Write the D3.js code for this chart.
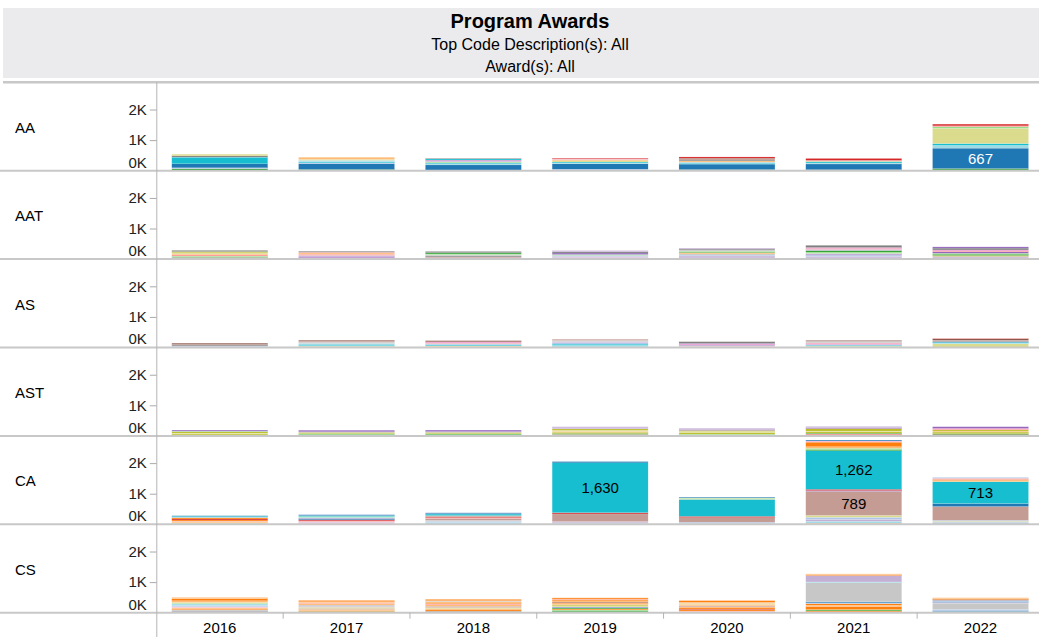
<!DOCTYPE html>
<html>
<head>
<meta charset="utf-8">
<script src="https://cdn.jsdelivr.net/npm/d3@7"></script>
<style>
  body { margin: 0; background: #fff; }
  svg { display: block; font-family: 'Liberation Sans', Arial, Helvetica, sans-serif; }
</style>
</head>
<body>
<svg id="chart" width="1039" height="637"></svg>
<script>
const years = ['2016', '2017', '2018', '2019', '2020', '2021', '2022'];
const awards = ['AA', 'AAT', 'AS', 'AST', 'CA', 'CS'];
const yTicks = [0, 1000, 2000];
const titleLines = ['Program Awards', 'Top Code Description(s): All', 'Award(s): All'];

// one list per year, segments from bottom to top: [program, awards]
const segAA = [
  [[15, 20], [4, 45], [1, 30], [0, 130], [18, 200], [38, 20], [14, 40], [17, 55]],
  [[4, 40], [0, 190], [1, 30], [18, 30], [19, 50], [17, 30], [3, 70]],
  [[21, 20], [0, 170], [19, 40], [18, 30], [5, 25], [9, 30], [12, 30], [38, 40], [14, 20]],
  [[1, 50], [0, 175], [19, 30], [18, 30], [17, 40], [3, 35], [13, 20], [6, 25]],
  [[4, 35], [0, 180], [18, 30], [19, 35], [3, 40], [14, 30], [11, 40], [10, 20], [6, 40]],
  [[4, 30], [0, 190], [19, 30], [18, 35], [5, 25], [7, 30], [6, 60]],
  [[1, 25], [4, 45], [0, 667], [19, 90], [18, 60], [17, 500], [5, 50], [7, 30], [6, 55]]
];
const segAAT = [
  [[12, 30], [13, 25], [4, 25], [5, 20], [7, 40], [3, 30], [17, 40], [16, 35], [14, 40]],
  [[13, 30], [12, 20], [8, 40], [9, 30], [7, 40], [3, 40], [27, 25], [14, 30]],
  [[13, 25], [12, 20], [11, 30], [14, 40], [15, 30], [5, 25], [4, 40], [34, 40]],
  [[12, 25], [13, 25], [9, 40], [1, 30], [5, 30], [8, 50], [14, 40], [29, 40]],
  [[13, 40], [9, 60], [1, 30], [15, 40], [3, 40], [4, 20], [5, 30], [35, 40], [14, 30], [29, 30]],
  [[13, 40], [9, 50], [1, 40], [8, 30], [15, 30], [5, 40], [4, 50], [29, 40], [7, 30], [12, 30], [14, 70]],
  [[13, 40], [9, 50], [16, 30], [4, 40], [5, 30], [8, 50], [7, 35], [12, 25], [14, 60], [28, 40]]
];
const segAS = [
  [[19, 30], [1, 20], [14, 30], [11, 20], [10, 40]],
  [[3, 25], [17, 20], [18, 30], [19, 60], [15, 40], [11, 30], [10, 30]],
  [[3, 40], [17, 20], [18, 30], [1, 40], [7, 30], [12, 25], [10, 30], [11, 20]],
  [[18, 30], [19, 40], [38, 40], [1, 50], [9, 40], [15, 30], [11, 40]],
  [[5, 30], [13, 20], [9, 40], [12, 25], [8, 20], [14, 50], [15, 25]],
  [[17, 30], [5, 20], [18, 25], [9, 30], [12, 30], [7, 20], [15, 50], [10, 25]],
  [[17, 120], [19, 20], [18, 30], [0, 15], [14, 25], [11, 30], [10, 50], [7, 15]]
];
const segAST = [
  [[4, 35], [16, 40], [17, 20], [36, 40], [5, 20], [8, 35]],
  [[1, 20], [4, 30], [5, 25], [16, 40], [9, 20], [8, 50]],
  [[1, 20], [4, 35], [5, 20], [16, 40], [9, 25], [8, 50]],
  [[13, 30], [7, 20], [4, 30], [16, 40], [3, 30], [17, 40], [36, 40], [9, 30], [8, 20], [29, 20]],
  [[4, 40], [5, 20], [16, 40], [17, 50], [36, 30], [8, 30], [9, 40]],
  [[13, 30], [7, 20], [6, 15], [4, 25], [16, 40], [17, 30], [36, 80], [8, 30], [9, 40]],
  [[13, 25], [6, 20], [4, 30], [16, 50], [3, 30], [36, 40], [7, 30], [12, 25], [8, 50]]
];
const segCA = [
  [[19, 25], [17, 25], [3, 30], [13, 20], [22, 40], [6, 35], [2, 40], [1, 20], [18, 30], [0, 15]],
  [[3, 20], [13, 40], [9, 30], [7, 25], [6, 35], [0, 30], [8, 20], [19, 30], [5, 25], [18, 30], [20, 20], [1, 25]],
  [[19, 60], [1, 40], [15, 30], [11, 60], [7, 30], [6, 25], [31, 40], [18, 50], [0, 30], [21, 20]],
  [[19, 30], [1, 20], [9, 40], [11, 250], [6, 40], [18, 1630], [0, 40]],
  [[19, 30], [1, 40], [11, 150], [6, 40], [18, 555], [17, 30], [5, 20], [0, 25]],
  [[3, 40], [19, 60], [9, 60], [1, 70], [17, 60], [11, 789], [8, 25], [6, 40], [18, 1262], [4, 40], [5, 40], [3, 50], [2, 150], [13, 40], [0, 30]],
  [[1, 70], [17, 30], [21, 30], [11, 450], [0, 100], [18, 713], [3, 40], [2, 30], [7, 40], [1, 30]]
];
const segCS = [
  [[9, 40], [14, 30], [15, 30], [2, 25], [3, 40], [13, 30], [1, 40], [19, 50], [5, 25], [17, 30], [23, 50], [2, 70], [3, 40]],
  [[5, 30], [4, 10], [2, 30], [3, 40], [11, 30], [17, 40], [9, 30], [15, 40], [23, 50], [7, 30], [43, 30], [22, 40]],
  [[15, 30], [14, 20], [2, 40], [3, 40], [17, 40], [11, 40], [23, 50], [7, 30], [22, 25], [43, 50], [35, 30], [42, 40]],
  [[15, 30], [4, 40], [5, 25], [2, 30], [24, 30], [0, 20], [8, 15], [17, 40], [16, 30], [3, 40], [22, 30], [10, 20], [23, 40], [42, 40], [7, 20], [62, 35]],
  [[7, 30], [13, 20], [2, 40], [6, 25], [22, 40], [3, 40], [11, 30], [23, 50], [17, 30], [43, 40], [42, 50]],
  [[8, 25], [2, 30], [4, 30], [16, 20], [22, 100], [3, 40], [42, 50], [1, 30], [0, 35], [15, 620], [19, 25], [9, 210], [62, 30], [3, 25]],
  [[15, 40], [0, 30], [1, 40], [35, 200], [9, 30], [20, 25], [21, 40], [10, 25], [2, 30], [3, 30]]
];
const segmentsByAward = [segAA, segAAT, segAS, segAST, segCA, segCS];

// tableau 20 colours, programs cycle through them
const palette = [
  '#1f77b4', '#aec7e8', '#ff7f0e', '#ffbb78', '#2ca02c', '#98df8a', '#d62728', '#ff9896',
  '#9467bd', '#c5b0d5', '#8c564b', '#c49c94', '#e377c2', '#f7b6d2', '#7f7f7f', '#c7c7c7',
  '#bcbd22', '#dbdb8d', '#17becf', '#9edae5'
];
const color = p => palette[p % palette.length];

const width = 1039;
const height = 637;
const plotLeft = 156.3;
const plotRight = 1044;
const rowTop = 82.3;
const rowHeight = 88.4;
const yMax = 2890;
const labelMin = 650;
const gridColor = '#c8c8c8';
const textColor = '#222';

const svg = d3.select('#chart');

// title band
svg.append('rect')
  .attr('x', 3)
  .attr('y', 8)
  .attr('width', width - 3)
  .attr('height', 70)
  .attr('fill', '#ebebed');

svg.selectAll('text.title')
  .data(titleLines)
  .join('text')
  .attr('class', 'title')
  .attr('x', 530)
  .attr('y', (d, i) => [28, 50, 72][i])
  .attr('text-anchor', 'middle')
  .attr('fill', '#000')
  .style('font-size', (d, i) => i == 0 ? '20px' : '16px')
  .style('font-weight', (d, i) => i == 0 ? 'bold' : 'normal')
  .text(d => d);

const x = d3.scaleBand()
  .domain(years)
  .range([plotLeft, plotRight])
  .paddingInner(0.243)
  .paddingOuter(0.122);

const fmt = d3.format(',');

awards.forEach(function(award, i) {
  const top = rowTop + i * rowHeight;
  const bottom = top + rowHeight;
  const y = d3.scaleLinear()
    .domain([0, yMax])
    .range([bottom, top]);

  const row = svg.append('g').attr('class', 'row');

  // stacked bars
  segmentsByAward[i].forEach(function(segs, j) {
    const ends = d3.cumsum(segs, s => s[1]);
    const stack = segs.map((s, k) => ({
      program: s[0],
      value: s[1],
      y0: k == 0 ? 0 : ends[k - 1],
      y1: ends[k]
    }));
    const bar = row.append('g').attr('class', 'bar');
    bar.selectAll('rect')
      .data(stack)
      .join('rect')
      .attr('x', x(years[j]))
      .attr('width', x.bandwidth())
      .attr('y', d => y(d.y1))
      .attr('height', d => y(d.y0) - y(d.y1))
      .attr('fill', d => color(d.program))
      .attr('stroke', 'rgba(255,255,255,0.35)')
      .attr('stroke-width', 0.4);
    bar.selectAll('text')
      .data(stack.filter(d => d.value >= labelMin))
      .join('text')
      .attr('x', x(years[j]) + x.bandwidth() / 2)
      .attr('y', d => y((d.y0 + d.y1) / 2))
      .attr('dy', '0.35em')
      .attr('text-anchor', 'middle')
      .attr('fill', d => d3.lab(color(d.program)).l > 55 ? '#000' : '#fff')
      .style('font-size', '15px')
      .text(d => fmt(d.value));
  });

  // y axis
  const yAxis = d3.axisLeft(y)
    .tickValues(yTicks)
    .tickSize(7)
    .tickPadding(3)
    .tickFormat(d => `${d / 1000}K`);
  const ga = row.append('g')
    .attr('transform', `translate(${plotLeft + 0.5}, 0)`)
    .call(yAxis);
  ga.select('.domain').remove();
  ga.selectAll('.tick line').attr('stroke', '#aaa');
  ga.selectAll('.tick text')
    .attr('fill', textColor)
    .style('font-size', '15px')
    .style('font-family', 'inherit');
  ga.selectAll('.tick')
    .filter(d => d == 0)
    .each(function() {
      d3.select(this).select('line').remove();
      d3.select(this).select('text').attr('y', -8.4);
    });

  // row header
  row.append('text')
    .attr('x', 15)
    .attr('y', (top + bottom) / 2 + 1)
    .attr('dy', '0.35em')
    .attr('fill', '#000')
    .style('font-size', '15px')
    .text(award);

  // row divider
  row.append('line')
    .attr('x1', 0)
    .attr('x2', width)
    .attr('y1', bottom)
    .attr('y2', bottom)
    .attr('stroke', gridColor)
    .attr('stroke-width', 2);
});

// line under the title band
svg.append('line')
  .attr('x1', 3)
  .attr('x2', width)
  .attr('y1', rowTop)
  .attr('y2', rowTop)
  .attr('stroke', gridColor)
  .attr('stroke-width', 2.5);

// left axis rule
svg.append('line')
  .attr('x1', plotLeft + 0.5)
  .attr('x2', plotLeft + 0.5)
  .attr('y1', rowTop)
  .attr('y2', height)
  .attr('stroke', '#b4b4b4')
  .attr('stroke-width', 1);

// year axis
const baseY = rowTop + awards.length * rowHeight;
const step = x.step();
svg.selectAll('line.sep')
  .data(years.slice(1))
  .join('line')
  .attr('class', 'sep')
  .attr('x1', d => x(d) - step * x.paddingInner() / 2)
  .attr('x2', d => x(d) - step * x.paddingInner() / 2)
  .attr('y1', baseY)
  .attr('y2', baseY + 6)
  .attr('stroke', '#b4b4b4');

svg.selectAll('text.year')
  .data(years)
  .join('text')
  .attr('class', 'year')
  .attr('x', d => x(d) + x.bandwidth() / 2)
  .attr('y', 633)
  .attr('text-anchor', 'middle')
  .attr('fill', '#000')
  .style('font-size', '15px')
  .text(d => d);
</script>
</body>
</html>
